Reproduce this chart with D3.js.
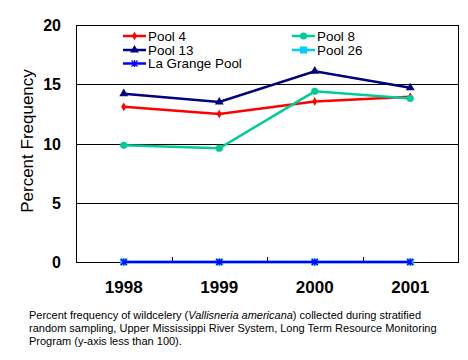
<!DOCTYPE html>
<html>
<head>
<meta charset="utf-8">
<script src="https://cdn.jsdelivr.net/npm/d3@7"></script>
<style>
body { margin: 0; background: #fff; }
text { font-family: Arial, "Liberation Sans", sans-serif; }
</style>
</head>
<body>
<script>
var years = ["1998", "1999", "2000", "2001"];
var yTicks = [0, 5, 10, 15, 20];
var pool4 = [13.1, 12.5, 13.55, 13.95];
var pool8 = [9.85, 9.6, 14.4, 13.8];
var pool13 = [14.2, 13.5, 16.1, 14.7];
var pool26 = [0, 0, 0, 0];
var laGrange = [0, 0, 0, 0];

var series = [
  {name: "Pool 4", values: pool4, color: "#ff0000", marker: "diamond"},
  {name: "Pool 8", values: pool8, color: "#00cc99", marker: "circle"},
  {name: "Pool 13", values: pool13, color: "#000080", marker: "triangle"},
  {name: "Pool 26", values: pool26, color: "#00ccff", marker: "square"},
  {name: "La Grange Pool", values: laGrange, color: "#0000ff", marker: "star"}
];

var margin = {top: 25, left: 76, right: 10, bottom: 98},
    width = 458 - margin.left,
    height = 262 - margin.top;

var svg = d3.select("body").append("svg")
    .attr("width", 468)
    .attr("height", 360);

var g = svg.append("g")
    .attr("transform", "translate(" + margin.left + "," + margin.top + ")");

var x = d3.scaleBand().domain(years).range([0, width]);
var y = d3.scaleLinear().domain([0, 20]).range([height, 0]);

// gridlines
g.selectAll(".grid")
    .data(yTicks.filter(function(d) { return d > 0 && d < 20; }))
    .enter().append("line")
    .attr("x1", 0).attr("x2", width)
    .attr("y1", function(d) { return Math.round(y(d)) + 0.5; })
    .attr("y2", function(d) { return Math.round(y(d)) + 0.5; })
    .style("stroke", "black");

// frame
g.append("rect")
    .attr("x", 0.5).attr("y", 0.5)
    .attr("width", width).attr("height", height)
    .style("fill", "none").style("stroke", "black");

// category boundary ticks
g.selectAll(".xtick")
    .data(years.slice(1))
    .enter().append("line")
    .attr("x1", function(d) { return Math.round(x(d)) + 0.5; })
    .attr("x2", function(d) { return Math.round(x(d)) + 0.5; })
    .attr("y1", height).attr("y2", height - 5)
    .style("stroke", "black");

// y tick labels
g.selectAll(".ylab")
    .data(yTicks)
    .enter().append("text")
    .attr("x", -15)
    .attr("y", function(d) { return y(d) + 6; })
    .attr("text-anchor", "end")
    .style("font-size", "16px")
    .style("font-weight", "bold")
    .text(function(d) { return d; });

// x labels
g.selectAll(".xlab")
    .data(years)
    .enter().append("text")
    .attr("x", function(d) { return x(d) + x.bandwidth() / 2; })
    .attr("y", height + 31)
    .attr("text-anchor", "middle")
    .style("font-size", "17px")
    .style("font-weight", "bold")
    .text(function(d) { return d; });

// y title
svg.append("text")
    .attr("transform", "translate(33,141) rotate(-90)")
    .attr("text-anchor", "middle")
    .style("font-size", "17px")
    .text("Percent Frequency");

function drawMarker(sel, type, color) {
  if (type === "diamond") {
    sel.append("path").attr("d", d3.symbol(d3.symbolDiamond, 22)()).style("fill", color);
  } else if (type === "circle") {
    sel.append("circle").attr("r", 3.6).style("fill", color);
  } else if (type === "triangle") {
    sel.append("path").attr("d", d3.symbol(d3.symbolTriangle, 34)()).style("fill", color);
  } else if (type === "square") {
    sel.append("rect").attr("x", -3.5).attr("y", -3.5).attr("width", 7).attr("height", 7).style("fill", color);
  } else if (type === "star") {
    sel.append("path").attr("d", "M-3,-3L3,3M-3,3L3,-3M0,-3.5L0,3.5")
      .style("stroke", color).style("stroke-width", 1.2).style("fill", "none");
  }
}

var line = d3.line()
    .x(function(d, i) { return x(years[i]) + x.bandwidth() / 2; })
    .y(function(d) { return y(d); });

series.forEach(function(s) {
  g.append("path")
      .datum(s.values)
      .attr("d", line)
      .style("fill", "none")
      .style("stroke", s.color)
      .style("stroke-width", 2.5);
  s.values.forEach(function(v, i) {
    var m = g.append("g")
        .attr("transform", "translate(" + (x(years[i]) + x.bandwidth() / 2) + "," + y(v) + ")");
    drawMarker(m, s.marker, s.color);
  });
});

// legend
var legendPos = [[123, 36], [292, 36], [123, 50], [292, 50], [123, 63.5]];
series.forEach(function(s, i) {
  var lg = svg.append("g").attr("transform", "translate(" + legendPos[i][0] + "," + legendPos[i][1] + ")");
  lg.append("line").attr("x1", 0).attr("x2", 23).attr("y1", 0).attr("y2", 0)
    .style("stroke", s.color).style("stroke-width", 2.5);
  var m = lg.append("g").attr("transform", "translate(11.5,0)");
  drawMarker(m, s.marker, s.color);
  lg.append("text").attr("x", 25).attr("y", 4.5)
    .style("font-size", "13.4px")
    .text(s.name);
});

// caption
var cap1 = svg.append("text")
    .attr("x", 29).attr("y", 319)
    .attr("textLength", 392).attr("lengthAdjust", "spacing")
    .style("font-size", "11px");
cap1.append("tspan").text("Percent frequency of wildcelery (");
cap1.append("tspan").style("font-style", "italic").text("Vallisneria americana");
cap1.append("tspan").text(") collected during stratified");
svg.append("text")
    .attr("x", 29).attr("y", 332)
    .style("font-size", "11px")
    .text("random sampling, Upper Mississippi River System, Long Term Resource Monitoring");
svg.append("text")
    .attr("x", 29).attr("y", 345)
    .style("font-size", "11px")
    .text("Program (y-axis less than 100).");
</script>
</body>
</html>
